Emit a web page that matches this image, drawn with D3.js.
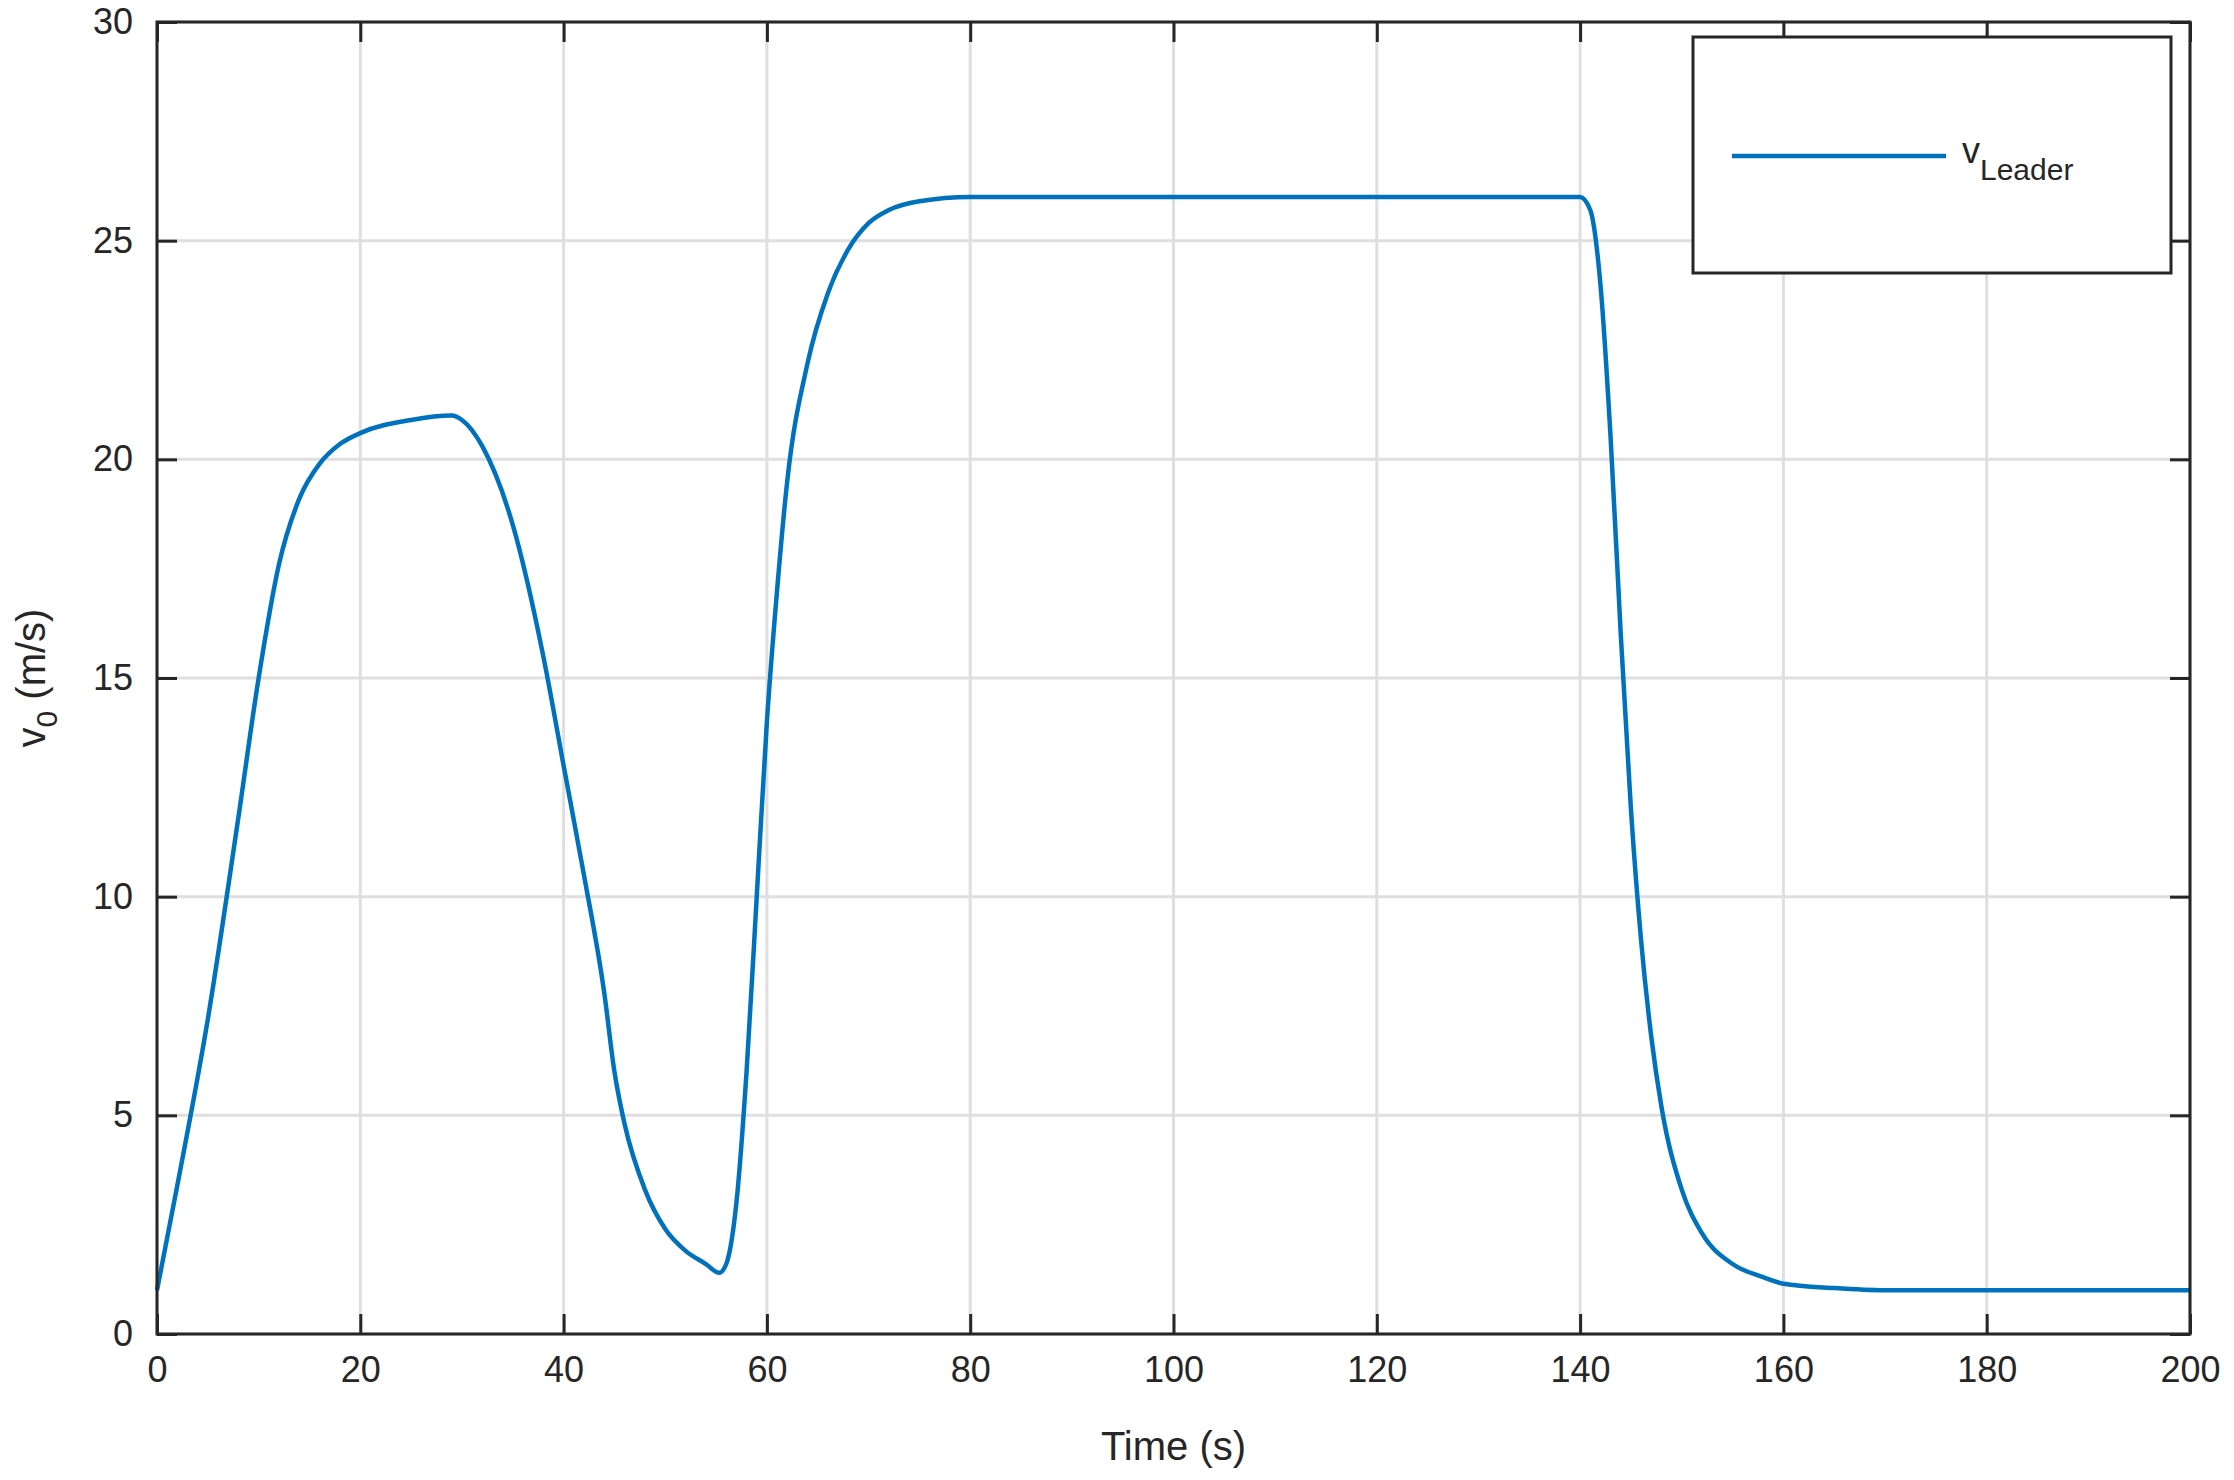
<!DOCTYPE html>
<html><head><meta charset="utf-8">
<script src="https://cdn.jsdelivr.net/npm/d3@7"></script>
<style>body{margin:0;background:#fff}text{font-family:Arial,"Liberation Sans",sans-serif;fill:#262626}</style>
</head><body>
<script>
var timeS = [0,2,5,8,10,12,14,16,18,20,25,29,30,32,35,38,40,42,44,45,46,48,50,52,54,55.3,56,57,58,59,60,61,62,64,66,68,70,72,75,80,100,140,141,142,143,144,145,146,147,148,150,152,155,158,160,165,170,200];
var vLeader = [1,3.4,7.2,11.8,15,17.6,19.1,19.9,20.35,20.6,20.9,21,20.9,20.3,18.5,15.5,13,10.5,7.8,6,4.8,3.3,2.4,1.9,1.6,1.4,1.6,3,6,10,14,17,19.5,22.2,23.8,24.8,25.4,25.7,25.9,26,26,26,25.7,24,20.5,16,12,9,6.8,5.2,3.3,2.3,1.6,1.3,1.15,1.05,1.0,1.0];
var xTicks = [0,20,40,60,80,100,120,140,160,180,200];
var yTicks = [0,5,10,15,20,25,30];

var W = 2234, H = 1480;
var L = 157, R = 2190, T = 22, B = 1334;
var svg = d3.select("body").append("svg").attr("width", W).attr("height", H);
var x = d3.scaleLinear().domain([0,200]).range([L,R]);
var y = d3.scaleLinear().domain([0,30]).range([B,T]);

// grid
svg.selectAll(".gx").data(xTicks).enter().append("line")
  .attr("x1", d => x(d)).attr("x2", d => x(d)).attr("y1", T).attr("y2", B)
  .attr("stroke", "#dfdfdf").attr("stroke-width", 3);
svg.selectAll(".gy").data(yTicks).enter().append("line")
  .attr("y1", d => y(d)).attr("y2", d => y(d)).attr("x1", L).attr("x2", R)
  .attr("stroke", "#dfdfdf").attr("stroke-width", 3);

var pts = timeS.map((t, i) => [t, vLeader[i]]);
svg.append("path").datum(pts)
  .attr("d", d3.line().x(d => x(d[0])).y(d => y(d[1])).curve(d3.curveMonotoneX))
  .attr("fill", "none").attr("stroke", "#0072BD").attr("stroke-width", 4.5);

// axes box + ticks
function ax(g, axis){ g.call(axis); g.select(".domain").remove();
  g.selectAll("line").attr("stroke", "#262626").attr("stroke-width", 3);
  g.selectAll("text").attr("font-size", 36).style("font-family","Arial").attr("fill","#262626"); }
svg.append("g").attr("transform", "translate(0," + B + ")").call(g => ax(g, d3.axisBottom(x).tickValues(xTicks).tickSize(-20).tickPadding(22)));
svg.append("g").attr("transform", "translate(0," + T + ")").call(g => ax(g, d3.axisTop(x).tickValues(xTicks).tickSize(-20).tickFormat("")));
svg.append("g").attr("transform", "translate(" + L + ",0)").call(g => ax(g, d3.axisLeft(y).tickValues(yTicks).tickSize(-20).tickPadding(24)));
svg.append("g").attr("transform", "translate(" + R + ",0)").call(g => ax(g, d3.axisRight(y).tickValues(yTicks).tickSize(-20).tickFormat("")));
svg.append("rect").attr("x", L).attr("y", T).attr("width", R - L).attr("height", B - T)
  .attr("fill", "none").attr("stroke", "#262626").attr("stroke-width", 3);

svg.append("text").attr("x", (L + R) / 2).attr("y", 1460).attr("text-anchor", "middle")
  .attr("font-size", 40).text("Time (s)");
var yl = svg.append("text").attr("transform", "translate(45," + ((T + B) / 2) + ") rotate(-90)")
  .attr("text-anchor", "middle").attr("font-size", 40);
yl.append("tspan").text("v");
yl.append("tspan").attr("font-size", 30).attr("dy", 12).text("0");
yl.append("tspan").attr("dy", -12).text(" (m/s)");

// legend
svg.append("rect").attr("x", 1693).attr("y", 37).attr("width", 478).attr("height", 236)
  .attr("fill", "#fff").attr("stroke", "#262626").attr("stroke-width", 3);
svg.append("line").attr("x1", 1732).attr("x2", 1946).attr("y1", 156).attr("y2", 156)
  .attr("stroke", "#0072BD").attr("stroke-width", 4.5);
var lt = svg.append("text").attr("x", 1962).attr("y", 163).attr("font-size", 36).attr("fill", "#000");
lt.append("tspan").text("v");
lt.append("tspan").attr("font-size", 30).attr("dy", 17).text("Leader");
</script>
</body></html>
